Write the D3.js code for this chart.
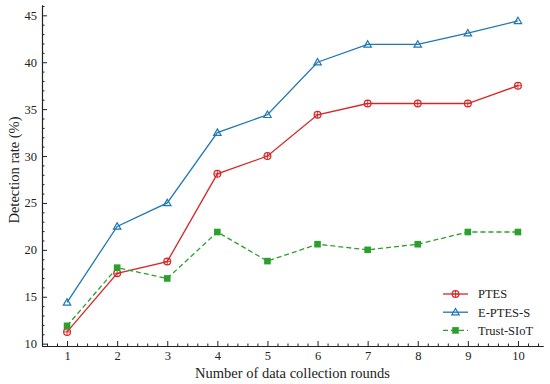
<!DOCTYPE html>
<html>
<head>
<meta charset="utf-8">
<script src="https://cdn.jsdelivr.net/npm/d3@7"></script>
<style>
  body { margin: 0; background: #fff; }
</style>
</head>
<body>
<svg id="chart" width="550" height="384"></svg>
<script>
// data
const rounds = [1, 2, 3, 4, 5, 6, 7, 8, 9, 10];
const ptes = [11.25, 17.5, 18.75, 28.1, 30, 34.4, 35.6, 35.6, 35.6, 37.5];
const eptess = [14.4, 22.5, 25, 32.5, 34.4, 40, 41.9, 41.9, 43.1, 44.4];
const trustSiot = [11.9, 18.1, 16.95, 21.9, 18.8, 20.6, 20, 20.6, 21.9, 21.9];
const yTicks = [10, 15, 20, 25, 30, 35, 40, 45];

const series = [
  { name: "PTES", values: ptes, color: "#d62728", dash: null, marker: "circle" },
  { name: "E-PTES-S", values: eptess, color: "#1f77b4", dash: null, marker: "triangle" },
  { name: "Trust-SIoT", values: trustSiot, color: "#2ca02c", dash: "5,3", marker: "square" }
];

const serif = "'Liberation Serif', 'Times New Roman', Times, serif";
const svg = d3.select("#chart").attr("font-family", serif);
const plotLeft = 42, plotRight = 543, plotTop = 5, plotBottom = 346;

const x = d3.scaleLinear().domain([0.5, 10.5]).range([plotLeft, plotRight]);
const y = d3.scaleLinear().domain([9.75, 46.1]).range([plotBottom, plotTop]);

// axes (ticks pointing inward)
const xAxis = svg.append("g").attr("transform", "translate(0," + plotBottom + ")")
  .call(d3.axisBottom(x).tickValues(rounds).tickSizeInner(-5).tickSizeOuter(0).tickPadding(5));
const xMinor = svg.append("g").attr("transform", "translate(0," + plotBottom + ")")
  .call(d3.axisBottom(x).tickValues(d3.range(6, 105, 2).map(d => d / 10).filter(d => d % 1 !== 0))
    .tickSizeInner(-2.5).tickSizeOuter(0).tickFormat(""));
const yAxis = svg.append("g").attr("transform", "translate(" + plotLeft + ",0)")
  .call(d3.axisLeft(y).tickValues(yTicks).tickSizeInner(-5).tickSizeOuter(0).tickPadding(5));
const yMinor = svg.append("g").attr("transform", "translate(" + plotLeft + ",0)")
  .call(d3.axisLeft(y).tickValues(d3.range(10, 47).filter(d => d % 5 !== 0))
    .tickSizeInner(-2.5).tickSizeOuter(0).tickFormat(""));

[xAxis, xMinor, yAxis, yMinor].forEach(g => {
  g.attr("font-family", serif).attr("font-size", 12.5);
  g.selectAll("path.domain").attr("stroke", "#222").attr("stroke-width", 1.1);
  g.selectAll("line").attr("stroke", "#222").attr("stroke-width", 1);
  g.selectAll("text").attr("fill", "#222");
});

// axis titles
svg.append("text")
  .attr("x", (plotLeft + plotRight) / 2).attr("y", 378)
  .attr("text-anchor", "middle").attr("font-size", 14.5).attr("fill", "#222")
  .text("Number of data collection rounds");
svg.append("text")
  .attr("transform", "translate(19,170) rotate(-90)")
  .attr("text-anchor", "middle").attr("font-size", 14.5).attr("fill", "#222")
  .text("Detection rate (%)");

function drawMarker(g, type, color, cx, cy) {
  if (type === "circle") {
    g.append("circle").attr("cx", cx).attr("cy", cy).attr("r", 3.4)
      .attr("fill", "none").attr("stroke", color).attr("stroke-width", 1.2);
    g.append("path").attr("d", `M${cx - 3.4},${cy}H${cx + 3.4}M${cx},${cy - 3.4}V${cy + 3.4}`)
      .attr("stroke", color).attr("stroke-width", 0.9);
  } else if (type === "triangle") {
    g.append("path").attr("d", d3.symbol(d3.symbolTriangle, 24)())
      .attr("transform", `translate(${cx},${cy + 0.6})`)
      .attr("fill", "none").attr("stroke", color).attr("stroke-width", 1.2);
  } else {
    g.append("rect").attr("x", cx - 3.3).attr("y", cy - 3.3).attr("width", 6.6).attr("height", 6.6)
      .attr("fill", color);
  }
}

const line = d3.line().x((d, i) => x(rounds[i])).y(d => y(d));

series.forEach(s => {
  const g = svg.append("g");
  g.append("path").datum(s.values).attr("d", line)
    .attr("fill", "none").attr("stroke", s.color).attr("stroke-width", 1.3)
    .attr("stroke-dasharray", s.dash);
  s.values.forEach((v, i) => drawMarker(g, s.marker, s.color, x(rounds[i]), y(v)));
});

// legend
const legend = svg.append("g");
series.forEach((s, i) => {
  const ly = 294 + i * 18.2;
  legend.append("line").attr("x1", 443).attr("x2", 468).attr("y1", ly).attr("y2", ly)
    .attr("stroke", s.color).attr("stroke-width", 1.3).attr("stroke-dasharray", s.dash);
  drawMarker(legend, s.marker, s.color, 455.5, ly);
  legend.append("text").attr("x", 478).attr("y", ly).attr("dy", "0.35em")
    .attr("font-size", 12.5).attr("fill", "#222").text(s.name);
});
</script>
</body>
</html>
